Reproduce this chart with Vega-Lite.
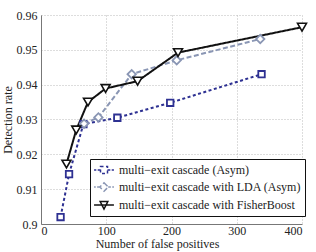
{
  "$schema": "https://vega.github.io/schema/vega-lite/v6.json",
  "width": 261,
  "height": 209,
  "autosize": {"type": "none"},
  "padding": {"left": 41, "top": 15, "right": 14, "bottom": 28},
  "background": "white",
  "config": {
    "view": {"stroke": null},
    "font": "Liberation Serif",
    "axis": {
      "labelFont": "Liberation Serif",
      "titleFont": "Liberation Serif",
      "labelFontSize": 12,
      "titleFontSize": 12,
      "titleFontWeight": "normal",
      "labelColor": "#222",
      "titleColor": "#222",
      "domainColor": "#777",
      "gridColor": "#bbb",
      "gridDash": [1, 2],
      "ticks": false
    },
    "legend": {
      "labelFont": "Liberation Serif",
      "labelFontSize": 12,
      "labelColor": "#222",
      "labelLimit": 300
    }
  },
  "data": {
    "values": [
      {"series": "multi\u2212exit cascade (Asym)", "fp": 30, "rate": 0.902},
      {"series": "multi\u2212exit cascade (Asym)", "fp": 43, "rate": 0.9143},
      {"series": "multi\u2212exit cascade (Asym)", "fp": 65, "rate": 0.9287},
      {"series": "multi\u2212exit cascade (Asym)", "fp": 117, "rate": 0.9305},
      {"series": "multi\u2212exit cascade (Asym)", "fp": 198, "rate": 0.9348},
      {"series": "multi\u2212exit cascade (Asym)", "fp": 338, "rate": 0.943},
      {"series": "multi\u2212exit cascade with LDA (Asym)", "fp": 66, "rate": 0.9288},
      {"series": "multi\u2212exit cascade with LDA (Asym)", "fp": 88, "rate": 0.9306},
      {"series": "multi\u2212exit cascade with LDA (Asym)", "fp": 139, "rate": 0.943},
      {"series": "multi\u2212exit cascade with LDA (Asym)", "fp": 208, "rate": 0.947},
      {"series": "multi\u2212exit cascade with LDA (Asym)", "fp": 336, "rate": 0.9531},
      {"series": "multi\u2212exit cascade with FisherBoost", "fp": 39, "rate": 0.9172},
      {"series": "multi\u2212exit cascade with FisherBoost", "fp": 54, "rate": 0.927},
      {"series": "multi\u2212exit cascade with FisherBoost", "fp": 72, "rate": 0.935},
      {"series": "multi\u2212exit cascade with FisherBoost", "fp": 99, "rate": 0.9389},
      {"series": "multi\u2212exit cascade with FisherBoost", "fp": 148, "rate": 0.941},
      {"series": "multi\u2212exit cascade with FisherBoost", "fp": 210, "rate": 0.9492},
      {"series": "multi\u2212exit cascade with FisherBoost", "fp": 400, "rate": 0.9565}
    ]
  },
  "encoding": {
    "x": {
      "field": "fp", "type": "quantitative",
      "scale": {"domain": [0, 400], "nice": false},
      "axis": {"values": [0, 100, 200, 300, 400], "title": "Number of false positives", "labelPadding": 1, "titleX": 116, "titleY": 14, "titleBaseline": "top"}
    },
    "y": {
      "field": "rate", "type": "quantitative",
      "scale": {"domain": [0.9, 0.96], "nice": false, "zero": false},
      "axis": {"values": [0.9, 0.91, 0.92, 0.93, 0.94, 0.95, 0.96], "format": ".2~f", "title": "Detection rate", "labelPadding": 4, "titlePadding": 2}
    }
  },
  "layer": [
    {
      "transform": [{"filter": "false"}],
      "mark": {"type": "point", "filled": false, "strokeWidth": 1.5, "opacity": 1},
      "encoding": {
        "color": {
          "field": "series", "type": "nominal",
          "scale": {
            "domain": ["multi\u2212exit cascade (Asym)", "multi\u2212exit cascade with LDA (Asym)", "multi\u2212exit cascade with FisherBoost"],
            "range": ["#2e3192", "#8a96b4", "#111111"]
          },
          "legend": {
            "title": null,
            "orient": "none",
            "legendX": 49,
            "legendY": 144,
            "strokeColor": "#111",
            "fillColor": "white",
            "padding": 3,
            "rowPadding": 2,
            "symbolSize": 196,
            "symbolStrokeWidth": 1.5,
            "symbolOffset": 3,
            "labelOffset": 7
          }
        },
        "shape": {
          "field": "series", "type": "nominal",
          "scale": {
            "domain": ["multi\u2212exit cascade (Asym)", "multi\u2212exit cascade with LDA (Asym)", "multi\u2212exit cascade with FisherBoost"],
            "range": [
              "M-1.42,0L-1.1,0M-0.9,0L-0.5,0M-0.5,-0.5L0.5,-0.5L0.5,0.5L-0.5,0.5ZM0.5,0L0.9,0M1.1,0L1.42,0",
              "M-1.42,0L-1.18,0M-0.98,0L-0.6,0M0,-0.6L0.6,0L0,0.6L-0.6,0ZM0.6,0L0.98,0M1.18,0L1.42,0",
              "M-1.42,0L1.42,0M-0.55,-0.5L0.55,-0.5L0,0.58Z"
            ]
          },
          "legend": {
            "title": null,
            "orient": "none",
            "legendX": 49,
            "legendY": 144,
            "strokeColor": "#111",
            "fillColor": "white",
            "padding": 3,
            "rowPadding": 2,
            "symbolSize": 196,
            "symbolStrokeWidth": 1.5,
            "symbolOffset": 3,
            "labelOffset": 7
          }
        }
      }
    },
    {
      "mark": {"type": "line", "strokeWidth": 2},
      "encoding": {
        "color": {"field": "series", "type": "nominal"},
        "strokeDash": {
          "field": "series", "type": "nominal",
          "scale": {
            "domain": ["multi\u2212exit cascade (Asym)", "multi\u2212exit cascade with LDA (Asym)", "multi\u2212exit cascade with FisherBoost"],
            "range": [[3, 2.5], [5, 2.5], [1, 0]]
          },
          "legend": null
        }
      }
    },
    {
      "transform": [{"filter": "datum.series == 'multi\u2212exit cascade (Asym)'"}],
      "mark": {"type": "point", "shape": "square", "size": 42, "strokeWidth": 1.8, "filled": false, "fill": "white", "opacity": 1},
      "encoding": {"color": {"field": "series", "type": "nominal"}}
    },
    {
      "transform": [{"filter": "datum.series == 'multi\u2212exit cascade with LDA (Asym)'"}],
      "mark": {"type": "point", "shape": "diamond", "size": 70, "strokeWidth": 1.8, "filled": false, "fill": "white", "opacity": 1},
      "encoding": {"color": {"field": "series", "type": "nominal"}}
    },
    {
      "transform": [{"filter": "datum.series == 'multi\u2212exit cascade with FisherBoost'"}],
      "mark": {"type": "point", "shape": "triangle-down", "size": 80, "strokeWidth": 1.6, "filled": false, "fill": "white", "opacity": 1},
      "encoding": {"color": {"field": "series", "type": "nominal"}}
    }
  ]
}
